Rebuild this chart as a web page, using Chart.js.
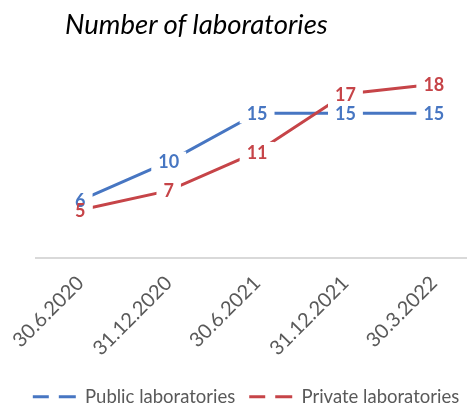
<!DOCTYPE html>
<html>
<head>
<meta charset="utf-8">
<script src="https://cdn.jsdelivr.net/npm/chart.js@4"></script>
<style>
  html, body { margin: 0; padding: 0; background: #fff; overflow: hidden; }
  #wrap { position: relative; width: 480px; height: 416px; }
  #title {
    position: absolute; left: 65px; top: 10px;
    font-family: Lato, "Liberation Sans", sans-serif;
    font-style: italic; font-size: 27.5px; line-height: 28px; color: #000;
  }
</style>
</head>
<body>
<div id="wrap">
  <canvas id="labChart"></canvas>
  <div id="title">Number of laboratories</div>
</div>
<script>
const categories = ['30.6.2020', '31.12.2020', '30.6.2021', '31.12.2021', '30.3.2022'];
const publicLabs = [6, 10, 15, 15, 15];
const privateLabs = [5, 7, 11, 17, 18];

const BLUE = '#4776c2';
const RED = '#c64448';
const FONT = 'Lato, "Liberation Sans", sans-serif';

// Excel-style data labels: white box over the lines, value in series colour
const valueLabels = {
    id: 'valueLabels',
    afterDatasetsDraw(chart) {
        const ctx = chart.ctx;
        ctx.save();
        ctx.font = 'bold 18px ' + FONT;
        ctx.textAlign = 'center';
        ctx.textBaseline = 'middle';
        const items = [];
        chart.data.datasets.forEach((ds, i) => {
            chart.getDatasetMeta(i).data.forEach((pt, j) => {
                items.push({ x: pt.x, y: pt.y, txt: String(ds.data[j]), color: ds.borderColor });
            });
        });
        // boxes first, then texts, so close labels overlap like in Excel
        items.forEach(it => {
            const w = ctx.measureText(it.txt).width + 14;
            ctx.fillStyle = '#fff';
            ctx.fillRect(it.x - w / 2, it.y - 10, w, 20);
        });
        items.forEach(it => {
            ctx.fillStyle = it.color;
            ctx.fillText(it.txt, it.x, it.y + 1);
        });
        ctx.restore();
    }
};

let labChart = document.getElementById('labChart').getContext('2d');

let new_lab_chart = new Chart(labChart, {
    type: 'line',
    data: {
        labels: categories,
        datasets: [{
            label: 'Public laboratories',
            data: publicLabs,
            borderColor: BLUE,
            backgroundColor: BLUE,
            borderWidth: 3,
            pointRadius: 0,
            order: 1,
        }, {
            label: 'Private laboratories',
            data: privateLabs,
            borderColor: RED,
            backgroundColor: RED,
            borderWidth: 3,
            pointRadius: 0,
            order: 0,
        }],
    },

    options: {
        responsive: true,
        maintainAspectRatio: false,
        animation: false,
        layout: {
            padding: { left: 14, right: 2, top: 65, bottom: 0 }
        },
        scales: {
            x: {
                offset: true,
                grid: { display: false, drawTicks: false },
                border: { display: true, color: '#d9d9d9', width: 2 },
                ticks: {
                    minRotation: 45,
                    maxRotation: 45,
                    padding: 13,
                    color: '#595959',
                    font: { family: FONT, size: 20 }
                }
            },
            y: {
                min: 0,
                max: 20,
                grid: { display: false },
                border: { display: false },
                ticks: { display: false },
                afterFit(scale) { scale.width = 18.5; }
            }
        },
        plugins: {
            legend: {
                position: 'bottom',
                labels: {
                    usePointStyle: true,
                    pointStyle: 'line',
                    pointStyleWidth: 43,
                    boxHeight: 3,
                    padding: 14,
                    color: '#595959',
                    font: { family: FONT, size: 18.5 },
                    generateLabels(chart) {
                        const items = Chart.defaults.plugins.legend.labels.generateLabels(chart);
                        items.sort((a, b) => a.datasetIndex - b.datasetIndex);
                        items.forEach(it => {
                            it.lineDash = [16, 10, 100];
                            it.lineWidth = 3;
                            it.pointStyle = 'line';
                        });
                        return items;
                    }
                }
            },
            tooltip: { enabled: false }
        }
    },
    plugins: [valueLabels]
});
</script>
</body>
</html>
